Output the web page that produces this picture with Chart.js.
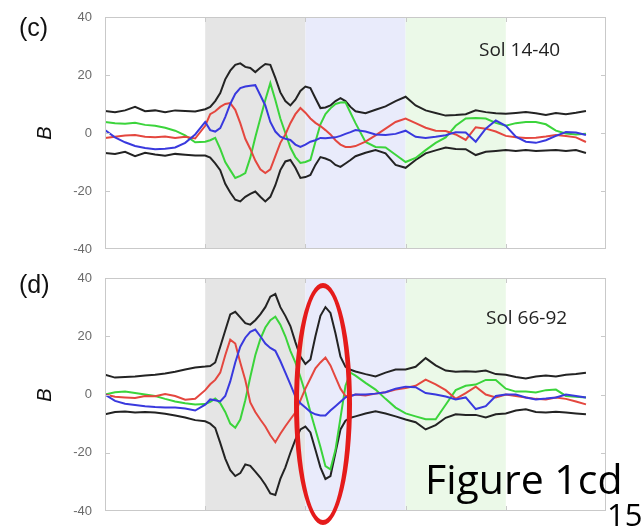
<!DOCTYPE html>
<html>
<head>
<meta charset="utf-8">
<script src="https://cdn.jsdelivr.net/npm/chart.js@4.4.1/dist/chart.umd.min.js"></script>
<style>
  html, body { margin: 0; padding: 0; background: #fff; }
  #wrap { position: relative; width: 644px; height: 526px; overflow: hidden; }
  canvas { position: absolute; left: 0; }
  .lbl { position: absolute; line-height: 1; white-space: nowrap; color: #111; }
  .panel { font-family: "Liberation Sans", Arial, sans-serif; font-size: 25px; }
  .axis { font-family: "Liberation Sans", Arial, sans-serif; font-size: 20px; font-style: italic; transform: translate(-50%, -50%) rotate(-90deg); }
  .sol { font-family: "Open Sans", sans-serif; font-size: 19px; color: #222; }
  .big { font-family: "Open Sans", sans-serif; font-size: 41px; color: #000; }
  .num { font-family: "Open Sans", sans-serif; font-size: 31px; color: #000; }
  #ring { position: absolute; left: 294px; top: 283px; width: 58px; height: 242px;
          box-sizing: border-box; border: 5px solid #e51b1b; border-radius: 50%; }
</style>
</head>
<body>
<div id="wrap">
  <canvas id="chartC" width="644" height="262" style="top:0"></canvas>
  <canvas id="chartD" width="644" height="264" style="top:262px"></canvas>
  <div class="lbl panel" style="left:19px; top:15px">(c)</div>
  <div class="lbl panel" style="left:19px; top:272px">(d)</div>
  <div class="lbl axis" style="left:44px; top:133px">B</div>
  <div class="lbl axis" style="left:44px; top:395px">B</div>
  <div class="lbl sol" style="left:479px; top:40px">Sol 14-40</div>
  <div class="lbl sol" style="left:486px; top:308px">Sol 66-92</div>
  <div id="ring"></div>
  <div class="lbl big" style="left:425px; top:458px">Figure 1cd</div>
  <div class="lbl num" style="left:607px; top:499px">15</div>
</div>
<script>
// sample positions along the time axis (finer through the active stretch)
const xs = [0, 2, 4, 6, 8, 10, 12, 14, 16, 18,
  20, 21, 22, 23, 24, 25, 26, 27, 28, 29, 30, 31, 32, 33, 34, 35, 36, 37, 38, 39, 40,
  41, 42, 43, 44, 45, 46, 47, 48, 49, 50,
  52, 54, 56, 58, 60, 62, 64, 66, 68, 70, 72, 74, 76, 78, 80, 82, 84, 86, 88, 90, 92, 94, 96];

const bandEdges = [20, 40, 60, 80];
const bandColors = ['#e5e5e5', '#e9ebfb', '#ebf9e8'];

const yTicks = [40, 20, 0, -20, -40];
const yTickLabels = ['40', '20', '0', '-20', '-40'];
const xTicks = [20, 40, 60, 80];

// Sol 14-40
const cUpper = [7.6, 7.2, 7.8, 9.0, 7.5, 7.8, 7.2, 7.8, 7.6, 7.4,
  8.2, 9.0, 11, 13.8, 18.5, 21.5, 23.5, 24, 22.8, 22.4, 21.0, 22.5, 23.8, 23.5, 19, 14, 11.0, 9.5, 11.5, 14.5, 16,
  15.5, 12, 8.6, 8.8, 9.5, 11, 12, 11, 9, 7.5,
  6.8, 8.0, 9.2, 11.0, 12.5, 9.5, 7.8, 6.9, 6.0, 6.2, 6.5, 7.8, 7.2, 6.8, 6.6, 6.9, 7.2, 6.8, 6.2, 6.9, 6.5, 7.0, 7.6];
const cLower = [-6.9, -7.2, -6.5, -8.0, -6.8, -7.4, -7.8, -7.2, -7.5, -7.8,
  -7.8, -8.5, -10.5, -12.8, -17.5, -20.5, -23, -23.6, -22, -21, -20.2, -22, -23.6, -22, -18, -12.8, -9.8, -9.3, -12, -15.5, -15.2,
  -14.5, -11, -8.3, -8.8, -9.5, -11, -11.7, -10.5, -9.3, -8.0,
  -6.8, -5.9, -7.0, -11, -12.0, -9.3, -7.0, -6.0, -5.0, -5.5, -5.6, -7.6, -6.5, -6.2, -5.9, -6.2, -5.9, -6.2, -6.0, -5.9, -6.2, -5.9, -6.9];
const cRed = [-1.7, -1.3, -0.9, -0.7, -1.3, -1.5, -1.2, -1.7, -1.3, -1.9,
  2.5, 6.5, 7.5, 9.0, 10.0, 10.3, 8, 3.4, -2, -5.5, -9.5, -12.5, -13.8, -12.5, -8, -3.4, -0.5, 3.4, 6.5, 8.6, 7.0,
  5.0, 3.5, 2.4, 1.0, -0.5, -2.5, -4.0, -4.8, -4.8, -4.5,
  -3.0, -0.8, 1.5, 3.8, 5.0, 3.4, 1.8, 0.8, 0.7, -0.5, -2.4, 2.0, 1.5, 0.5, -1.0, -1.5, -1.7, -1.6, -1.2, -0.7, -1.0, -1.5, -3.1];
const cGreen = [3.8, 3.4, 3.2, 3.5, 2.8, 2.5, 1.8, 0.8, -0.8, -3.2,
  -3.0, -2.5, -1.7, -5.5, -10, -12.8, -15.5, -14.8, -13.8, -8.5, -1.5, 5, 11.4, 17.2, 11.4, 5, 0, -5, -8.3, -10.3, -10.0,
  -9.3, -3, 3, 6.5, 8.5, 10, 10.5, 10.6, 7, 3.4,
  -3.1, -4.8, -5.0, -7.5, -10, -8.6, -5.9, -3.4, -1.5, 2.5, 5.0, 5.2, 5.0, 3.5, 2.5, 3.4, 3.8, 3.8, 3.0, 0.8, -0.2, -0.5, -0.3];
const cBlue = [1.0, -1.5, -3.2, -4.5, -5.2, -5.6, -5.4, -5.0, -3.4, -0.5,
  3.8, 1.0, 0.5, 1.7, 5.5, 10, 13.5, 15.5, 16, 16.3, 16.5, 13, 9.5, 3.8, 0.5, -1.3, -2, -2.4, -4, -4.8, -4,
  -3, -2.5, -1.7, -1.8, -1.6, -1.5, -1, -0.3, 0.3, 1.0,
  0.5, -0.5, -0.7, -0.3, 0.8, -1.3, -1.7, -1.3, -0.8, 0.3, 0.2, -3.0, 1.5, 4.3, 2.5, -1.3, -3.0, -3.4, -2.5, -1.0, 0.3, 0.2, -0.7];

// Sol 66-92
const dUpper = [6.8, 5.8, 6.0, 6.2, 6.5, 6.8, 7.2, 7.8, 8.6, 9.3,
  9.6, 9.8, 11, 16.4, 22, 27.5, 28.4, 26.5, 24.5, 24, 25.5, 27.5, 30, 33.6, 34.5, 30, 27, 23.5, 18, 13, 10.5,
  12, 20, 27, 30, 28, 21, 13, 9.5, 8.5, 7.9,
  7.0, 6.2, 7.5, 8.6, 8.6, 9.5, 12.5, 10.0, 8.2, 7.8, 8.0, 7.8, 8.2, 7.0, 6.8, 6.0, 5.5, 6.2, 6.5, 6.2, 6.8, 7.0, 7.5];
const dLower = [-6.8, -6.0, -5.8, -6.2, -6.0, -6.2, -6.6, -7.2, -7.9, -8.8,
  -9.2, -10, -11.5, -16.6, -22, -26, -28, -27, -24, -24.5, -26.5, -28.5, -31, -34, -34.5, -29, -25, -20, -15.5, -12, -11,
  -13, -19, -25, -29, -28, -20, -12, -9, -8, -7.5,
  -6.5, -5.8, -6.5, -7.5, -8.6, -9.5, -12, -10.5, -8.0, -6.8, -7.0, -7.0, -7.9, -6.8, -6.5, -5.5, -5.1, -6.0, -6.2, -5.9, -6.2, -6.5, -6.8];
const dRed = [0, -0.8, -1.0, -1.2, -0.5, -0.6, 0.2, -0.5, -1.8, -1.5,
  1.5, 3.5, 5, 7.5, 13.5, 18.8, 17.5, 11, 5, -2.7, -6, -8.6, -11, -14, -16.4, -13.5, -10.9, -8.5, -6.2, -2, 2,
  5.5, 9, 11, 12.7, 10, 6, 2, -0.5, -0.5, 0,
  -0.3, 0.3, 0.8, 1.7, 2.2, 3.0, 5.1, 3.5, 1.5, -1.5, 0.5, 2.7, 0, -1.0, 0, -0.5, -1.0, -1.5, -1.7, -1.0, -1.5, -2.4, -3.4];
const dGreen = [0, 0.8, 1.0, 0.5, 0, -0.5, -1.5, -2.4, -3.0, -3.4,
  -3.3, -2.5, -1.4, -3, -6, -10, -11.4, -8.6, -2, 6, 13.5, 19, 23, 25.5, 26.7, 24, 20, 15, 11, 6, 0.5,
  -6, -12, -18, -24.6, -25.7, -19, -8, 3, 7.5, 6.5,
  4.0, 1.7, -1.5, -4.5, -6.5, -7.5, -8.5, -8.5, -3.5, 1.5, 3.0, 3.4, 5.0, 5.0, 2.0, 1.0, 1.0, 0.7, 1.5, 1.7, -0.5, -0.8, -1.0];
const dBlue = [0, -2.2, -3.2, -3.6, -4.0, -4.3, -4.5, -4.5, -4.8, -5.5,
  -3.5, -1.7, -2.0, -2.4, -0.5, 4.5, 11, 16.4, 19.5, 21.5, 22.3, 20, 17.5, 16, 15, 11.5, 7.5, 3.5, -0.7, -3, -4.5,
  -6, -6.8, -7.2, -7.2, -5.5, -4, -2.5, -1, -0.5, 0,
  0, 0.3, 0.8, 2.0, 2.7, 2.5, 0.5, 0, -0.7, -1.7, -1.0, -5.0, -4.0, -0.5, 0, 0, -1.0, -1.7, -1.4, -1.0, 0, -0.5, -1.0];

const BLACK = '#232323', RED = '#e4473f', GREEN = '#3bd43b', BLUE = '#3939de';

function pts(values) {
    return xs.map((x, i) => ({ x: x, y: values[i] }));
}

// shaded intervals behind the traces, then a light frame with inward ticks
const panelDecor = {
    id: 'panelDecor',
    beforeDatasetsDraw(chart) {
        const { ctx, chartArea: a, scales: { x } } = chart;
        ctx.save();
        for (let i = 0; i < bandColors.length; i++) {
            const x0 = x.getPixelForValue(bandEdges[i]);
            const x1 = x.getPixelForValue(bandEdges[i + 1]);
            ctx.fillStyle = bandColors[i];
            ctx.fillRect(x0, a.top, x1 - x0, a.bottom - a.top);
        }
        ctx.restore();
    },
    afterDatasetsDraw(chart) {
        const { ctx, chartArea: a, scales: { x, y } } = chart;
        ctx.save();
        ctx.strokeStyle = '#c9c9c9';
        ctx.lineWidth = 1;
        ctx.strokeRect(a.left + 0.5, a.top + 0.5, a.right - a.left - 1, a.bottom - a.top - 1);
        ctx.beginPath();
        xTicks.forEach(v => {
            const px = Math.round(x.getPixelForValue(v)) + 0.5;
            ctx.moveTo(px, a.bottom); ctx.lineTo(px, a.bottom - 5);
            ctx.moveTo(px, a.top); ctx.lineTo(px, a.top + 5);
        });
        yTicks.slice(1, -1).forEach(v => {
            const py = Math.round(y.getPixelForValue(v)) + 0.5;
            ctx.moveTo(a.left, py); ctx.lineTo(a.left + 5, py);
            ctx.moveTo(a.right, py); ctx.lineTo(a.right - 5, py);
        });
        ctx.stroke();
        ctx.restore();
    }
};

function makePanel(canvasId, series, padding) {
    const line = (data, color) => ({
        data: pts(data),
        borderColor: color,
        borderWidth: 2,
        pointRadius: 0,
        tension: 0,
        fill: false
    });
    const ctx = document.getElementById(canvasId).getContext('2d');
    return new Chart(ctx, {
        type: 'line',
        data: {
            datasets: [
                line(series.blue, BLUE),
                line(series.red, RED),
                line(series.green, GREEN),
                line(series.upper, BLACK),
                line(series.lower, BLACK)
            ]
        },
        options: {
            responsive: false,
            animation: false,
            events: [],
            layout: { padding: padding },
            plugins: {
                legend: { display: false },
                tooltip: { enabled: false }
            },
            scales: {
                x: {
                    type: 'linear',
                    min: 0,
                    max: 100,
                    display: false
                },
                y: {
                    min: -40,
                    max: 40,
                    afterBuildTicks: (scale) => {
                        scale.ticks = yTicks.map(v => ({ value: v }));
                    },
                    afterFit: (scale) => {
                        scale.width = 105;
                    },
                    grid: { display: false },
                    border: { display: false },
                    ticks: {
                        padding: 5,
                        color: '#6a6a6a',
                        font: { family: 'Liberation Sans', size: 13 },
                        callback: (v) => yTickLabels[yTicks.indexOf(v)]
                    }
                }
            }
        },
        plugins: [panelDecor]
    });
}

makePanel('chartC',
    { upper: cUpper, lower: cLower, red: cRed, green: cGreen, blue: cBlue },
    { top: 17, right: 38, bottom: 13, left: 0 });
makePanel('chartD',
    { upper: dUpper, lower: dLower, red: dRed, green: dGreen, blue: dBlue },
    { top: 16, right: 38, bottom: 15, left: 0 });
</script>
</body>
</html>
